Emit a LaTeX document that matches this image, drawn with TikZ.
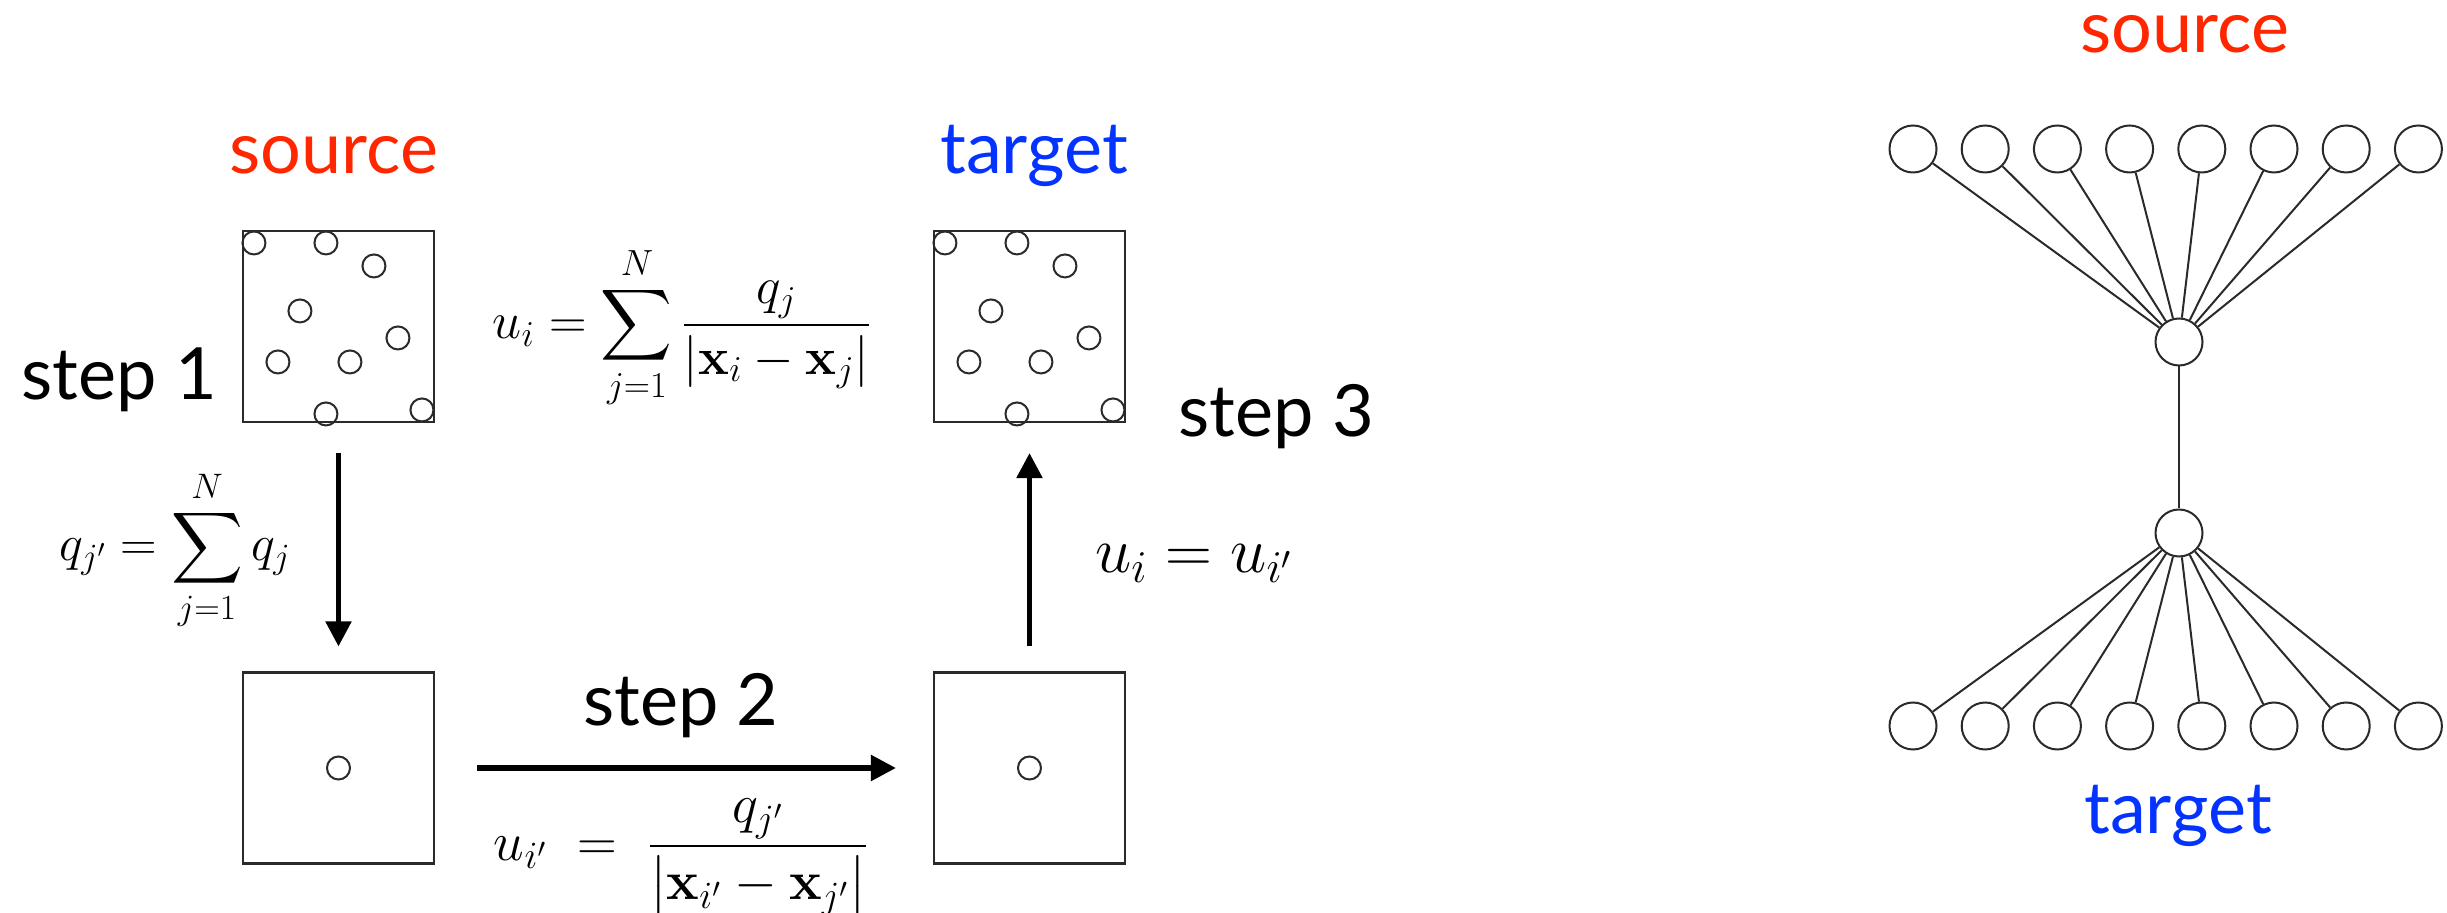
\RequirePackage{fix-cm}
\documentclass[tikz,border=0pt]{standalone}
\usepackage{amsmath}
\usepackage[no-math]{fontspec}
\newfontfamily\labelfont{Lato}
\usetikzlibrary{arrows.meta}
\definecolor{srcred}{HTML}{FF2600}
\definecolor{tgtblue}{HTML}{0433FF}
\definecolor{ink}{HTML}{2A2A2A}

\begin{document}
\begin{tikzpicture}[x=0.5pt,y=-0.5pt,
  cell/.style={draw=ink, line width=1.25pt, minimum size=95.3pt, inner sep=0pt},
  particle/.style={circle, draw=ink, line width=1pt, minimum size=11.5pt, inner sep=0pt},
  unit/.style={circle, draw=ink, line width=1pt, minimum size=23.5pt, inner sep=0pt},
  edge/.style={draw=ink, line width=1pt},
  bigarrow/.style={-{Triangle[length=12.5pt,width=12.5pt]}, line width=2.6pt},
  word/.style={font=\labelfont\fontsize{36}{40}\selectfont, inner sep=0pt},
  formula/.style={inner sep=0pt, anchor=base}
]
\useasboundingbox (0,0) rectangle (2447,913);

% the four cells
\node[cell] (src) at (338.5,326.5) {};
\node[cell] (tgt) at (1029.5,326.5) {};
\node[cell] (srcc) at (338.5,768) {};
\node[cell] (tgtc) at (1029.5,768) {};

% scattered particles in the source and target cells
\foreach \dx/\dy [count=\k] in {12/13, 84/13, 132/36, 58/81, 156/108, 36/132, 108/132, 84/184, 180/180} {
  \node[particle] (sp\k) at ([shift={(\dx,\dy)}]src.north west) {};
  \node[particle] (tp\k) at ([shift={(\dx,\dy)}]tgt.north west) {};
}
% single aggregated particle in each lower cell
\node[particle] (sq) at (srcc.center) {};
\node[particle] (tq) at (tgtc.center) {};

% labels
\node[word, text=srcred, anchor=base] (srclbl) at (334,174) {source};
\node[word, text=tgtblue, anchor=base] (tgtlbl) at (1034,174) {target};
\node[word, anchor=base west] (s1) at (21,400) {step 1};
\node[word, anchor=base] (s2) at (681,726) {step 2};
\node[word, anchor=base west] (s3) at (1178,437) {step 3};

% arrows between the cells
\draw[bigarrow, shorten <=15pt, shorten >=12.5pt] (src.south) -- (srcc.north);
\draw[bigarrow, shorten <=21pt, shorten >=18.5pt] (srcc.east) -- (tgtc.west);
\draw[bigarrow, shorten <=12.5pt, shorten >=15pt] (tgtc.north) -- (tgt.south);

% formulas
\node[formula, font=\fontsize{26}{31}\selectfont] (direct) at (682,338.5)
  {$\displaystyle u_i=\sum_{j=1}^{N}\frac{q_j}{|\mathbf{x}_i-\mathbf{x}_j|}$};
\node[formula, font=\fontsize{25.3}{30}\selectfont] (agg) at (175,560.5)
  {$\displaystyle q_{j'}=\sum_{j=1}^{N}q_j$};
\node[formula, font=\fontsize{27.5}{33}\selectfont] (far) at (681,860)
  {$\displaystyle u_{i'}\;=\;\frac{q_{j'}}{\bigl|\mathbf{x}_{i'}-\mathbf{x}_{j'}\bigr|}$};
\node[formula, font=\fontsize{32.5}{38}\selectfont] (back) at (1194,573)
  {$u_i=u_{i'}$};

% tree: sources -> one node -> one node -> targets
\foreach \i in {1,...,8} {
  \node[unit] (top\i) at ({1913+72.2*(\i-1)},149) {};
  \node[unit] (bot\i) at ({1913+72.2*(\i-1)},726) {};
}
\node[unit] (hubs) at (2179,342) {};
\node[unit] (hubt) at (2179,533) {};
\foreach \i in {1,...,8} {
  \draw[edge] (top\i) -- (hubs);
  \draw[edge] (hubt) -- (bot\i);
}
\draw[edge] (hubs) -- (hubt);

\node[word, text=srcred, anchor=base] (srclbl2) at (2185,53) {source};
\node[word, text=tgtblue, anchor=base] (tgtlbl2) at (2178,834) {target};
\end{tikzpicture}
\end{document}
